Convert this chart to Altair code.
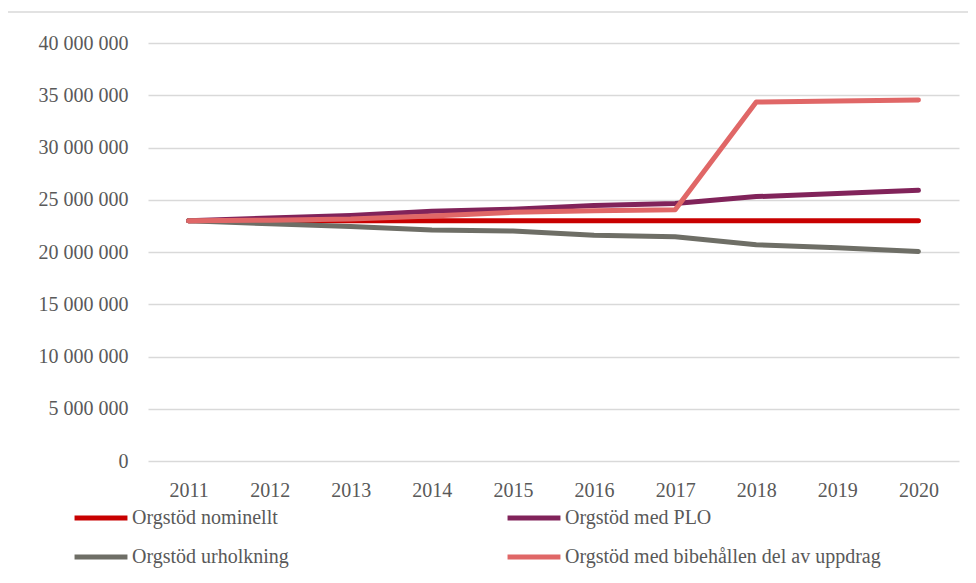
import altair as alt
import pandas as pd

years = ["2011", "2012", "2013", "2014", "2015", "2016", "2017", "2018", "2019", "2020"]
series_names = [
    "Orgstöd nominellt",
    "Orgstöd med PLO",
    "Orgstöd urholkning",
    "Orgstöd med bibehållen del av uppdrag",
]
nominellt = [23000000, 23000000, 23000000, 23000000, 23000000, 23000000, 23000000, 23000000, 23000000, 23000000]
med_plo = [23000000, 23250000, 23500000, 23900000, 24100000, 24450000, 24650000, 25300000, 25600000, 25900000]
urholkning = [23000000, 22700000, 22450000, 22100000, 22000000, 21600000, 21450000, 20700000, 20400000, 20050000]
bibehallen = [23000000, 23050000, 23150000, 23450000, 23800000, 23950000, 24050000, 34350000, 34450000, 34550000]
colors = ["#C80000", "#81235A", "#6E6E66", "#E06767"]
y_ticks = [0, 5000000, 10000000, 15000000, 20000000, 25000000, 30000000, 35000000, 40000000]

rows = []
for name, vals in zip(series_names, [nominellt, med_plo, urholkning, bibehallen]):
    for yr, v in zip(years, vals):
        rows.append({"year": yr, "value": v, "series": name, "order": series_names.index(name)})
df = pd.DataFrame(rows)

FONT = "Liberation Serif"
TXT = "#595959"

lines = alt.Chart(df).mark_line(strokeWidth=5, strokeCap="round", strokeJoin="round").encode(
    x=alt.X("year:O", scale=alt.Scale(type="point", padding=0.5), sort=years,
            axis=alt.Axis(title=None, labelAngle=0, ticks=False, domain=False, grid=False,
                          labelFontSize=20, labelColor=TXT, labelFont=FONT, labelPadding=19)),
    y=alt.Y("value:Q", scale=alt.Scale(domain=[0, 40000000]),
            axis=alt.Axis(title=None, values=y_ticks, ticks=False, domain=False,
                          labelFontSize=20, labelColor=TXT, labelFont=FONT, labelPadding=20,
                          gridColor="#D9D9D9", gridWidth=1.5,
                          labelExpr="replace(format(datum.value, ','), regexp(',', 'g'), ' ')")),
    color=alt.Color("series:N", sort=series_names,
                    scale=alt.Scale(domain=series_names, range=colors),
                    legend=alt.Legend(title=None, orient="none", legendX=-76, legendY=446,
                                      columns=2, direction="horizontal", symbolType="stroke",
                                      symbolSize=2800, symbolStrokeWidth=5, labelOffset=2,
                                      labelFont=FONT, labelFontSize=20, labelColor=TXT,
                                      columnPadding=208, rowPadding=-10, labelLimit=500)),
    detail="series:N",
    order="order:Q",
)

frame = alt.Chart(pd.DataFrame({"k": [0]})).mark_rect(
    filled=False, stroke="#D9D9D9", strokeWidth=1.5
).encode(
    x=alt.value(-142), x2=alt.value(860), y=alt.value(-31), y2=alt.value(600))

chart = alt.layer(frame, lines).properties(
    width=811, height=418,
    autosize=alt.AutoSizeParams(type="none"),
    padding={"left": 140, "top": 35, "right": 9, "bottom": 114},
).configure(background="white").configure_view(stroke=None)

chart.save("out.html", embed_options={"renderer": "svg", "actions": False})
